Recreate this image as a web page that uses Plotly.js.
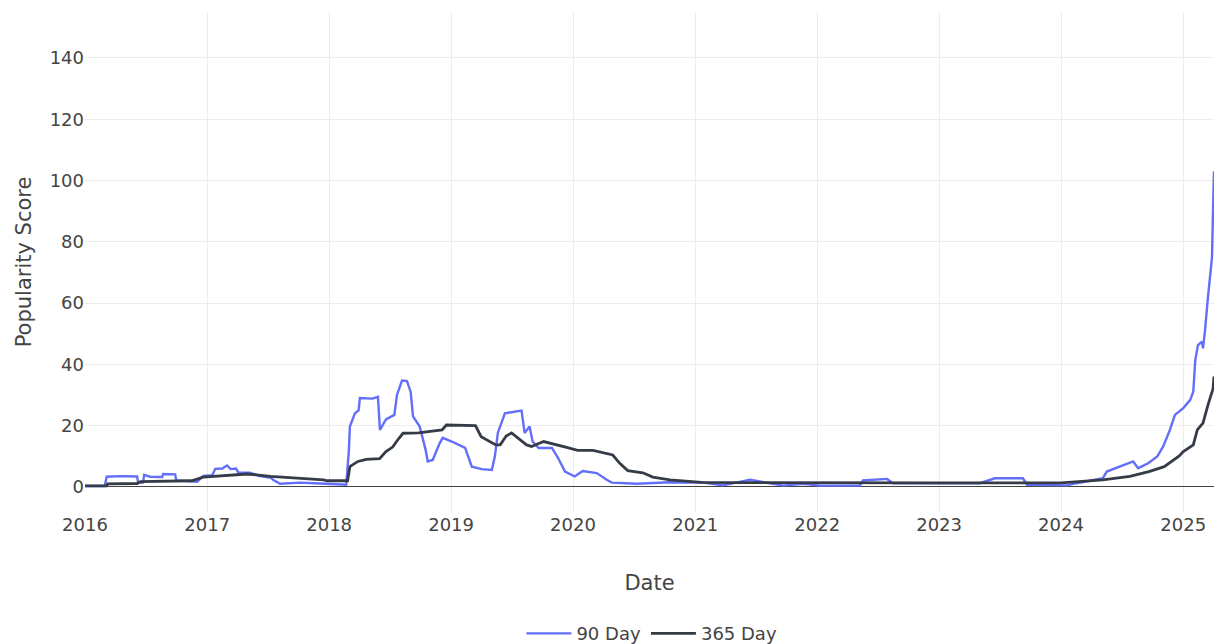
<!DOCTYPE html>
<html>
<head>
<meta charset="utf-8">
<script src="https://cdn.plot.ly/plotly-3.0.1.min.js"></script>
<style>html,body{margin:0;padding:0;background:#fff;}#chart{width:1214px;height:644px;}</style>
</head>
<body>
<div id="chart"></div>
<script>
const dates90 = ["2016-01-01","2016-02-29","2016-03-06","2016-04-15","2016-06-05","2016-06-08","2016-06-23","2016-06-26","2016-07-14","2016-08-19","2016-08-22","2016-09-27","2016-09-30","2016-12-02","2016-12-20","2017-01-16","2017-01-25","2017-02-15","2017-03-01","2017-03-12","2017-03-28","2017-04-04","2017-05-09","2017-06-08","2017-07-10","2017-07-17","2017-08-07","2017-10-06","2017-12-05","2018-01-28","2018-02-21","2018-03-01","2018-03-04","2018-03-19","2018-03-30","2018-04-03","2018-05-10","2018-05-27","2018-06-02","2018-06-20","2018-07-15","2018-07-23","2018-08-07","2018-08-22","2018-09-02","2018-09-09","2018-09-29","2018-10-17","2018-10-23","2018-11-07","2018-11-28","2018-12-07","2019-01-03","2019-02-12","2019-03-04","2019-04-03","2019-05-03","2019-05-12","2019-05-21","2019-06-11","2019-07-31","2019-08-09","2019-08-24","2019-09-02","2019-09-20","2019-10-30","2019-11-17","2019-12-08","2020-01-06","2020-01-30","2020-03-12","2020-04-11","2020-04-26","2020-07-10","2020-10-17","2021-01-24","2021-03-25","2021-06-14","2021-08-13","2021-09-21","2021-11-20","2022-01-10","2022-05-09","2022-05-18","2022-07-29","2022-08-16","2023-02-02","2023-05-03","2023-06-17","2023-09-09","2023-09-21","2024-01-18","2024-02-17","2024-05-05","2024-05-17","2024-06-26","2024-08-04","2024-08-19","2024-09-18","2024-10-15","2024-11-02","2024-11-22","2024-12-07","2025-01-01","2025-01-22","2025-01-31","2025-02-06","2025-02-14","2025-02-26","2025-03-01","2025-03-07","2025-03-16","2025-03-22","2025-03-28","2025-03-31","2025-04-03"];
const values90 = [0.3,0.3,3.3,3.5,3.4,1.4,1.4,3.9,3.3,3.2,4.2,4.1,2.1,1.7,3.6,3.8,5.9,6.0,7.0,5.8,6.0,4.7,4.6,3.5,3.0,2.3,1.0,1.4,1.1,0.8,0.7,12,19.7,24,25,29,28.8,29.4,18.6,22,23.5,30,34.7,34.5,31,23,19.7,12,8.3,8.8,14.3,16,14.8,12.7,6.6,5.8,5.5,9.9,17.6,24,24.9,17.6,19.7,14.8,12.7,12.7,9.5,5.0,3.4,5.2,4.5,2.3,1.4,1.0,1.5,1.4,0.5,2.3,1.2,0.4,1.0,0.4,0.4,2.1,2.6,1.2,1.2,1.2,2.8,2.8,0.7,0.5,1.2,2.8,5.0,6.6,8.3,6.1,7.7,9.9,13.2,18.6,23.5,25.7,28.4,31.1,41.4,46.3,47.4,45.2,51,62,69.8,75,90,103];

const dates365 = ["2016-01-01","2016-03-06","2016-03-09","2016-06-05","2016-06-15","2016-10-01","2016-11-15","2016-12-20","2017-02-01","2017-05-01","2017-07-10","2017-10-15","2017-12-15","2017-12-27","2018-02-25","2018-03-04","2018-03-28","2018-04-22","2018-06-01","2018-06-20","2018-07-10","2018-07-25","2018-08-10","2018-09-25","2018-10-25","2018-12-05","2018-12-18","2019-03-15","2019-04-01","2019-05-15","2019-05-28","2019-06-15","2019-07-01","2019-08-15","2019-08-30","2019-10-05","2019-12-10","2020-01-15","2020-03-01","2020-04-29","2020-05-20","2020-06-13","2020-07-28","2020-08-27","2020-10-17","2021-01-20","2021-05-01","2022-01-01","2023-01-01","2024-01-01","2024-05-05","2024-07-25","2024-09-20","2024-11-05","2024-12-20","2025-01-01","2025-01-31","2025-02-12","2025-03-01","2025-03-16","2025-03-31","2025-04-03"];
const values365 = [0.3,0.3,1.0,1.1,1.7,2.0,2.0,3.2,3.6,4.2,3.4,2.8,2.3,2.0,2.0,6.6,8.3,9.0,9.2,11.5,13,15.3,17.5,17.6,18,18.6,20.2,20.0,16.4,13.7,13.7,16.6,17.6,13.7,13.2,14.8,13,11.9,11.9,10.4,7.7,5.3,4.6,3.2,2.3,1.5,1.4,1.3,1.3,1.3,2.3,3.4,5.0,6.6,10.1,11.5,13.7,18.6,20.8,26.8,32,36];

const yTicks = [0,20,40,60,80,100,120,140];
const xTicks = ["2016-01-01","2017-01-01","2018-01-01","2019-01-01","2020-01-01","2021-01-01","2022-01-01","2023-01-01","2024-01-01","2025-01-01"];
const xTickText = ["2016","2017","2018","2019","2020","2021","2022","2023","2024","2025"];

const traces = [
  {x: dates90, y: values90, type: 'scatter', mode: 'lines', name: '90 Day',
   line: {color: '#636efa', width: 2.4}},
  {x: dates365, y: values365, type: 'scatter', mode: 'lines', name: '365 Day',
   line: {color: '#353c48', width: 2.8}}
];

const layout = {
  width: 1214, height: 644,
  margin: {l: 85, r: 0, t: 12, b: 132},
  paper_bgcolor: '#fff', plot_bgcolor: '#fff',
  font: {family: 'DejaVu Sans, Verdana, sans-serif', size: 18, color: '#444'},
  showlegend: true,
  legend: {orientation: 'h', x: 0.537, xanchor: 'center', xref: 'container',
           y: 0.016, yanchor: 'middle', yref: 'container', itemwidth: 45,
           font: {size: 18, color: '#444'}},
  xaxis: {
    type: 'date', range: ['2016-01-01', '2025-04-03'],
    tickvals: xTicks, ticktext: xTickText,
    showgrid: true, gridcolor: '#ededed', gridwidth: 1,
    zeroline: false, showline: false, ticks: '',
    tickfont: {size: 18}, automargin: false,
    title: {text: 'Date', font: {size: 21}, standoff: 41}
  },
  yaxis: {
    range: [-8.2, 155], tickvals: yTicks,
    showgrid: true, gridcolor: '#ededed', gridwidth: 1,
    zeroline: true, zerolinecolor: '#444', zerolinewidth: 1.2,
    showline: false, ticks: '', automargin: false,
    tickfont: {size: 18},
    title: {text: 'Popularity Score', font: {size: 21}, standoff: 12}
  }
};

Plotly.newPlot('chart', traces, layout, {displayModeBar: false, staticPlot: true});
</script>
</body>
</html>
